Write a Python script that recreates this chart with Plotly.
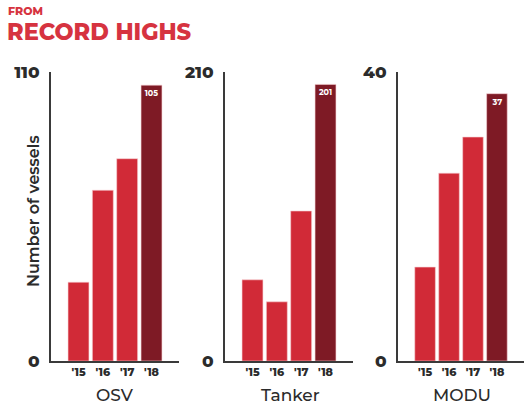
import plotly.graph_objects as go

years = ["'15", "'16", "'17", "'18"]
osv = [30, 65, 77, 105]
tanker = [59, 43, 109, 201]
modu = [13, 26, 31, 37]
panel_names = ["OSV", "Tanker", "MODU"]
axis_max = [110, 210, 40]

light = "#d12a37"
dark = "#7e1a25"
ink = "#2b2b2b"
FONT = "Montserrat, Open Sans, sans-serif"

W, H = 524, 407
fig = go.Figure()

series = [osv, tanker, modu]
xdom_px = [(51, 179), (225, 353), (398, 526)]
title_x = [115, 290, 462]
y_bot, y_top = 361, 72

for i, vals in enumerate(series):
    xa = "x" if i == 0 else f"x{i+1}"
    ya = "y" if i == 0 else f"y{i+1}"
    colors = [light] * (len(vals) - 1) + [dark]
    texts = [""] * (len(vals) - 1) + [str(vals[-1])]
    fig.add_trace(go.Bar(
        x=list(range(len(years))), y=vals, xaxis=xa, yaxis=ya,
        marker=dict(color=colors, line=dict(color="#f6d0d3", width=0.6)),
        width=0.86,
        text=texts, textposition="inside", insidetextanchor="end",
        textfont=dict(family=FONT, size=8, color="white", weight=700),
        textangle=0, showlegend=False, hoverinfo="skip",
    ))
    x0, x1 = xdom_px[i]
    xkey = "xaxis" if i == 0 else f"xaxis{i+1}"
    ykey = "yaxis" if i == 0 else f"yaxis{i+1}"
    fig.update_layout(**{
        xkey: dict(domain=[x0 / W, min(x1 / W, 1.0)], anchor=ya,
                   range=[-1.13, 4.13], tickvals=list(range(len(years))),
                   ticktext=years, showgrid=False, zeroline=False,
                   showline=True, linecolor="#3a3a3a", linewidth=2,
                   ticks="", ticklabelstandoff=0, automargin=False,
                   tickfont=dict(family=FONT, size=11, color=ink, weight=800)),
        ykey: dict(domain=[1 - y_bot / H, 1 - y_top / H], anchor=xa,
                   range=[0, axis_max[i]], tickvals=[0, axis_max[i]],
                   showgrid=False, zeroline=False, showline=True,
                   linecolor="#3a3a3a", linewidth=2, ticks="",
                   ticklabelstandoff=6, automargin=False,
                   tickfont=dict(family=FONT, size=17, color=ink, weight=800)),
    })
    fig.add_annotation(text=panel_names[i], xref="paper", yref="paper",
                       x=title_x[i] / W, y=1 - 395 / H, showarrow=False,
                       font=dict(family=FONT, size=17, color=ink, weight=500),
                       xanchor="center", yanchor="middle")

fig.add_annotation(text="Number of vessels", xref="paper", yref="paper",
                   x=33 / W, y=1 - 211 / H, textangle=-90, showarrow=False,
                   font=dict(family=FONT, size=16, color=ink, weight=600),
                   xanchor="center", yanchor="middle")
fig.add_annotation(text="FROM", xref="paper", yref="paper",
                   x=6 / W, y=1 - 10.5 / H, showarrow=False,
                   font=dict(family=FONT, size=11, color="#d63340", weight=800),
                   xanchor="left", yanchor="middle")
fig.add_annotation(text="RECORD HIGHS", xref="paper", yref="paper",
                   x=5 / W, y=1 - 31.5 / H, showarrow=False,
                   font=dict(family=FONT, size=22.5, color="#d63340", weight=800),
                   xanchor="left", yanchor="middle")

fig.update_layout(width=W, height=H, margin=dict(l=0, r=0, t=0, b=0),
                  paper_bgcolor="white", plot_bgcolor="white",
                  bargap=0.1)
fig.write_html("out.html")
